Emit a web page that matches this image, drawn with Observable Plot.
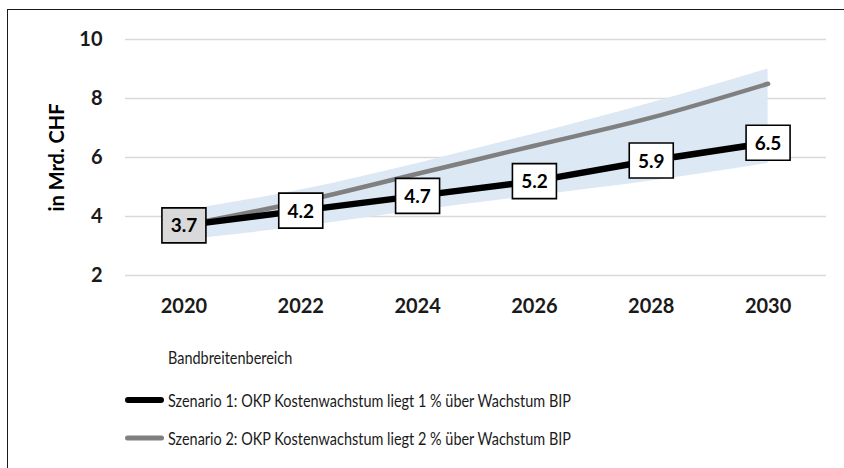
<!DOCTYPE html>
<html>
<head>
<meta charset="utf-8">
<script src="https://cdn.jsdelivr.net/npm/d3@7"></script>
<script src="https://cdn.jsdelivr.net/npm/@observablehq/plot@0.6"></script>
<style>
  html, body { margin: 0; padding: 0; background: #fff; }
  body { width: 844px; height: 468px; position: relative; overflow: hidden; font-family: Lato, "Open Sans", sans-serif; }
  #chart { position: absolute; left: 0; top: 0; }
  #frame { position: absolute; left: 7px; top: 9px; width: 900px; height: 500px; border-left: 1.5px solid #1a1a1a; border-top: 1.5px solid #1a1a1a; pointer-events: none; }
  .leg { position: absolute; left: 0; font-size: 17px; color: #1a1a1a; white-space: nowrap; }
  .leg .txt { position: absolute; left: 168px; transform-origin: 0 50%; transform: translateY(-50%) scaleX(0.85); }
  .leg .sw { position: absolute; left: 125px; width: 39px; border-radius: 3px; transform: translateY(-50%); }
</style>
</head>
<body>
<div id="chart"></div>
<div id="legend"></div>
<div id="frame"></div>
<script>
// ---- data ----
const years = [2020, 2022, 2024, 2026, 2028, 2030];
const scenario1 = [3.7, 4.2, 4.7, 5.2, 5.9, 6.5];
const scenario2 = [3.7, 4.5, 5.45, 6.4, 7.35, 8.5];
const bandLow = [3.2, 3.65, 4.2, 4.7, 5.2, 5.8];
const bandHigh = [4.2, 4.9, 5.8, 6.8, 7.85, 9.0];
const yTicks = [2, 4, 6, 8, 10];
const yLabel = "in Mrd. CHF";
const legendLabels = [
  "Bandbreitenbereich",
  "Szenario 1: OKP Kostenwachstum liegt 1 % über Wachstum BIP",
  "Szenario 2: OKP Kostenwachstum liegt 2 % über Wachstum BIP"
];

const rows = years.map((year, i) => ({
  year, s1: scenario1[i], s2: scenario2[i], lo: bandLow[i], hi: bandHigh[i], i
}));

const boxSymbol = { draw(ctx) { ctx.rect(-22, -17.5, 44, 35); } };

const plot = Plot.plot({
  width: 844,
  height: 330,
  marginLeft: 125,
  marginRight: 18,
  marginTop: 39,
  marginBottom: 55,
  style: { background: "transparent", fontFamily: "Lato, 'Open Sans', sans-serif", color: "#1a1a1a" },
  x: { domain: [2019, 2031] },
  y: { domain: [2, 10] },
  marks: [
    Plot.ruleY(yTicks, { stroke: "#d9d9d9", strokeWidth: 1.5 }),
    Plot.areaY(rows, { x: "year", y1: "lo", y2: "hi", fill: "#dde8f5", curve: "monotone-x" }),
    Plot.line(rows, { x: "year", y: "s2", stroke: "#808080", strokeWidth: 4.5, curve: "monotone-x", strokeLinecap: "round" }),
    Plot.line(rows, { x: "year", y: "s1", stroke: "#000", strokeWidth: 6.5 }),
    Plot.dot(rows, { x: "year", y: "s1", symbol: boxSymbol, r: 10,
      fill: d => d.i === 0 ? "#d9d9d9" : "#fff", stroke: "#000", strokeWidth: 1.6 }),
    Plot.text(rows, { x: "year", y: "s1", text: d => d.s1.toFixed(1), fontSize: 19, fontWeight: "bold", fill: "#000", dy: 1 }),
    Plot.axisY({ ticks: yTicks, tickSize: 0, tickPadding: 23, fontSize: 20, fontWeight: "bold", label: null }),
    Plot.axisX({ ticks: years, tickFormat: d => String(d), tickSize: 0, tickPadding: 23, fontSize: 20, fontWeight: "bold", label: null }),
    Plot.text([yLabel], { frameAnchor: "left", textAnchor: "middle", lineAnchor: "middle", dx: -68, rotate: -90, fontSize: 20, fontWeight: "bold", fill: "#000" })
  ]
});
document.getElementById("chart").appendChild(plot);

// ---- legend ----
const legend = document.getElementById("legend");
const legendY = [357, 400, 438];
const swatches = [null, { color: "#000", h: 6 }, { color: "#808080", h: 5 }];
legendLabels.forEach((label, i) => {
  const row = document.createElement("div");
  row.className = "leg";
  row.style.top = legendY[i] + "px";
  if (swatches[i]) {
    const sw = document.createElement("div");
    sw.className = "sw";
    sw.style.background = swatches[i].color;
    sw.style.height = swatches[i].h + "px";
    row.appendChild(sw);
  }
  const t = document.createElement("span");
  t.className = "txt";
  t.textContent = label;
  row.appendChild(t);
  legend.appendChild(row);
});
</script>
</body>
</html>
